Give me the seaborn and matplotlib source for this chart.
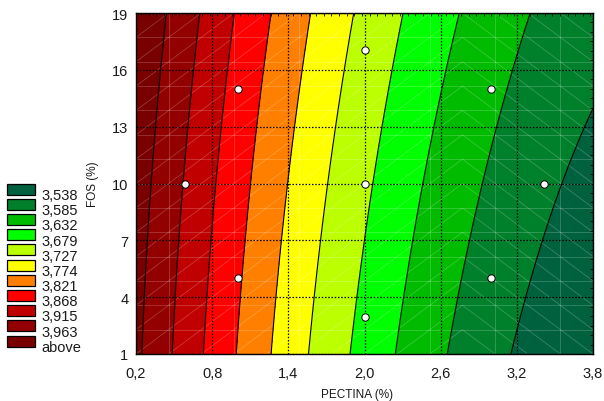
import numpy as np
import pandas as pd
import matplotlib
matplotlib.use("Agg")
import matplotlib.pyplot as plt
import seaborn as sns
from matplotlib.patches import Rectangle
from matplotlib.collections import LineCollection
from matplotlib.ticker import MultipleLocator

# Iso-response levels (ascending) and their fill colours; the last colour is "above"
levels = [3.538, 3.585, 3.632, 3.679, 3.727, 3.774, 3.821, 3.868, 3.915, 3.963]
level_labels = ["3,538", "3,585", "3,632", "3,679", "3,727", "3,774",
                "3,821", "3,868", "3,915", "3,963", "above"]
band_colors = ["#00613F", "#00802B", "#00BB00", "#00FF00", "#BBFF00", "#FFFF00",
               "#FF8000", "#FF0000", "#C00000", "#920000", "#780000"]

# Central composite design points
pectina = [0.586, 1.0, 1.0, 2.0, 2.0, 2.0, 3.0, 3.0, 3.414]
fos = [10.0, 15.0, 5.0, 17.07, 10.0, 2.93, 15.0, 5.0, 10.0]

# PECTINA value where each iso-line crosses a given FOS, listed from 3,963 downward
cross_fos19 = [0.444, 0.696, 0.964, 1.264, 1.579, 1.925, 2.311, 2.768, 3.241]
cross_fos14_5 = [1.476, 1.807, 2.177, 2.611]            # 3,774 .. 3,632
cross_fos10 = [0.326, 0.570, 0.830, 1.106, 1.390, 1.705, 2.059, 2.461, 2.941, 3.524]
cross_fos6_5 = [1.334, 1.650, 1.988, 2.343, 2.808, 3.359]  # 3,774 .. 3,538
cross_fos1 = [0.247, 0.484, 0.728, 0.980, 1.271, 1.563, 1.886, 2.264, 2.658, 3.146]
# 3,538 line leaving through the right border
edge_point = (3.8, 12.88, 3.538)

x_ticks = [0.2, 0.8, 1.4, 2.0, 2.6, 3.2, 3.8]
y_ticks = [1, 4, 7, 10, 13, 16, 19]

# ---- smooth response surface fitted to the iso-line crossings ----
desc = levels[::-1]
rows = [(19.0, cross_fos19, desc[:9]), (14.46, cross_fos14_5, desc[4:8]),
        (10.0, cross_fos10, desc[:10]), (6.54, cross_fos6_5, desc[4:10]),
        (1.0, cross_fos1, desc[:10])]
recs = []
for yv, xs, lv in rows:
    for xv, l in zip(xs, lv):
        recs.append((xv, yv, l))
recs.append(edge_point)
iso = pd.DataFrame(recs, columns=["pectina", "fos", "resp"])


def design(x, y):
    y = y / 10.0
    return np.column_stack([np.ones_like(x), x, y, x * x, y * y, x * y,
                            x * x * y, x * y * y, x ** 3])


coef, *_ = np.linalg.lstsq(design(iso.pectina.values, iso.fos.values),
                           iso.resp.values, rcond=None)

gx = np.linspace(0.2, 3.8, 300)
gy = np.linspace(1, 19, 300)
GX, GY = np.meshgrid(gx, gy)
Z = (design(GX.ravel(), GY.ravel()) @ coef).reshape(GX.shape)

# ---- figure ----
sns.set_theme(style="white")
plt.rcParams["font.family"] = ["Liberation Sans", "DejaVu Sans"]
text_color = "#1a1a1a"

fig = plt.figure(figsize=(6.04, 4.02), dpi=100)
W, H = 604, 402
ax = fig.add_axes([136 / W, 1 - 355 / H, 457 / W, 341 / H])

bounds = [min(Z.min(), levels[0]) - 1] + levels + [max(Z.max(), levels[-1]) + 1]
ax.contourf(GX, GY, Z, levels=bounds, colors=band_colors, zorder=1)

# faint rendering mesh
ncol, nrow = 14, 14
xs_m = np.linspace(0.2, 3.8, ncol + 1)
ys_m = np.linspace(1, 19, nrow + 1)
segs = []
for yv in ys_m[1:-1]:
    segs.append([(0.2, yv), (3.8, yv)])
for k in range(1, ncol, 2):
    segs.append([(xs_m[k], 1), (xs_m[k], 19)])
for i in range(ncol):
    for j in range(nrow):
        x0, x1 = xs_m[i], xs_m[i + 1]
        y0, y1 = ys_m[j], ys_m[j + 1]
        if i < 10:
            segs.append([(x0, y0), (x1, y1)])
        else:
            segs.append([(x0, y1), (x1, y0)])
ax.add_collection(LineCollection(segs, colors="white", linewidths=0.6,
                                 alpha=0.22, zorder=1.5))

ax.contour(GX, GY, Z, levels=levels, colors="black", linewidths=0.8, zorder=2)

sns.scatterplot(x=pectina, y=fos, ax=ax, s=28, color="white",
                edgecolor="black", linewidth=0.7, zorder=4, legend=False)

ax.set_xlim(0.2, 3.8)
ax.set_ylim(1, 19)
ax.set_xticks(x_ticks)
ax.set_xticklabels([f"{v:.1f}".replace(".", ",") for v in x_ticks])
ax.set_yticks(y_ticks)
ax.set_yticklabels([str(v) for v in y_ticks])
ax.xaxis.set_minor_locator(MultipleLocator(0.06))
ax.yaxis.set_minor_locator(MultipleLocator(0.5))
ax.tick_params(axis="both", which="major", length=0, labelsize=10.5,
               colors=text_color)
ax.tick_params(axis="x", which="major", pad=8.5)
ax.tick_params(axis="y", which="major", pad=5.5)
ax.tick_params(axis="both", which="minor", direction="in", length=2.2,
               width=0.6, color="black", top=True, right=True,
               bottom=False, left=False)

ax.set_axisbelow(False)
ax.grid(True, which="major", color="black", linestyle=(0, (1.2, 1.4)),
        linewidth=0.9, zorder=3)
for sp in ax.spines.values():
    sp.set_color("black")
    sp.set_linewidth(1.0)
    sp.set_zorder(5)

fig.text(357 / W, 1 - 395 / H, "PECTINA (%)", ha="center", va="center",
         fontsize=8.5, color=text_color)
fig.text(93 / W, 1 - 184.5 / H, "FOS (%)", ha="center", va="center",
         rotation=90, fontsize=8.5, color=text_color)

# colour key
for i, (lab, col) in enumerate(zip(level_labels, band_colors)):
    cy = 190.3 + i * 15.17
    fig.add_artist(Rectangle((7 / W, 1 - (cy + 5.5) / H), 28 / W, 11 / H,
                             transform=fig.transFigure, facecolor=col,
                             edgecolor="black", linewidth=0.9))
    fig.text(41 / W, 1 - (200 + i * 15.17) / H, lab, ha="left",
             va="baseline", fontsize=10.5, color=text_color)

fig.savefig("out.png", dpi=100)
